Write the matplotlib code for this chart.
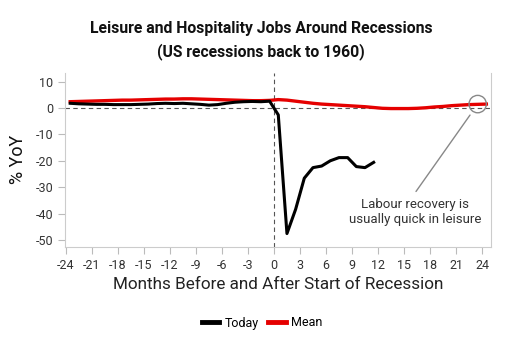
import numpy as np
import matplotlib
matplotlib.use("Agg")
import matplotlib.pyplot as plt
from matplotlib.patches import Ellipse

plt.rcParams['font.family'] = ['Roboto', 'DejaVu Sans']
plt.rcParams['axes.unicode_minus'] = False

# months relative to recession start (points sit mid-month)
months = np.arange(-24, 25) + 0.5

today = [1.8, 1.6, 1.5, 1.4, 1.4, 1.3, 1.3, 1.3, 1.4, 1.5, 1.7, 1.8,
         1.7, 1.8, 1.6, 1.4, 1.1, 1.3, 1.8, 2.2, 2.4, 2.5, 2.4, 2.6,
         -2.6, -47.6, -38.4, -26.6, -22.6, -22.0, -20.0, -18.8, -18.8, -22.2, -22.6, -20.6]

mean = [2.4, 2.5, 2.6, 2.7, 2.8, 2.9, 3.0, 3.0, 3.1, 3.2, 3.3, 3.4,
        3.4, 3.5, 3.5, 3.4, 3.3, 3.2, 3.1, 3.0, 2.9, 2.8, 2.8, 2.9,
        3.2, 3.0, 2.6, 2.2, 1.8, 1.5, 1.3, 1.1, 0.9, 0.7, 0.5, 0.2,
        -0.1, -0.2, -0.2, -0.2, -0.1, 0.1, 0.4, 0.6, 0.9, 1.1, 1.3, 1.4, 1.5]

xticks = list(range(-24, 25, 3))
yticks = list(range(-50, 11, 10))

fig = plt.figure(figsize=(5.07, 3.45), dpi=100)
ax = fig.add_axes([65/507, 1-247/345, (490.7-65)/507, (247-72.7)/345])

ax.axhline(0, color='#555555', lw=0.8, ls=(0, (4, 3)), zorder=1)
ax.axvline(0, color='#555555', lw=0.8, ls=(0, (4, 3)), zorder=1)

ax.plot(months[:len(today)], today, color='black', lw=2.2, label='Today', zorder=3)
ax.plot(months[:len(mean)], mean, color='#e50000', lw=2.4, label='Mean', zorder=2)

ax.set_xlim(-24.1, 25)
ax.set_ylim(-52.7, 13.4)
ax.set_xticks(xticks)
ax.set_yticks(yticks)
ax.tick_params(axis='both', colors='#bbbbbb', labelcolor='#333333', labelsize=9, length=5, width=0.8)

for s in ['left', 'bottom', 'right']:
    ax.spines[s].set_color('#cccccc')
ax.spines['top'].set_visible(False)

ax.set_ylabel('% YoY', fontsize=13, color='#111111')
ax.yaxis.set_label_coords(-0.089, 0.5)
ax.set_xlabel('Months Before and After Start of Recession', fontsize=12.3, color='#222222', labelpad=4)

# annotation circle and pointer
circ = Ellipse((23.5, 1.5), 2.0, 6.6, fill=False, edgecolor='#888888', lw=1.0, zorder=4)
ax.add_patch(circ)
ax.annotate('', xy=(22.8, -1.8), xytext=(16.2, -32.5),
            arrowprops=dict(arrowstyle='-', color='#888888', lw=1.0))
ax.text(16.3, -39.5, 'Labour recovery is\nusually quick in leisure', ha='center', va='center',
        fontsize=9.5, color='#333333', linespacing=1.25)

fig.text(0.515, 1-28/345, 'Leisure and Hospitality Jobs Around Recessions', ha='center', va='center',
         fontsize=11.3, fontweight='bold', color='#111111')
fig.text(0.515, 1-52/345, '(US recessions back to 1960)', ha='center', va='center',
         fontsize=11.3, fontweight='bold', color='#111111')

fig.legend(loc='center', bbox_to_anchor=(262/507, 1-323/345), ncol=2, frameon=False,
           fontsize=9, handlelength=1.4, handletextpad=0.4, columnspacing=0.8)
for l in fig.legends[0].get_lines():
    l.set_linewidth(3.5)

fig.savefig('out.png', dpi=100)
